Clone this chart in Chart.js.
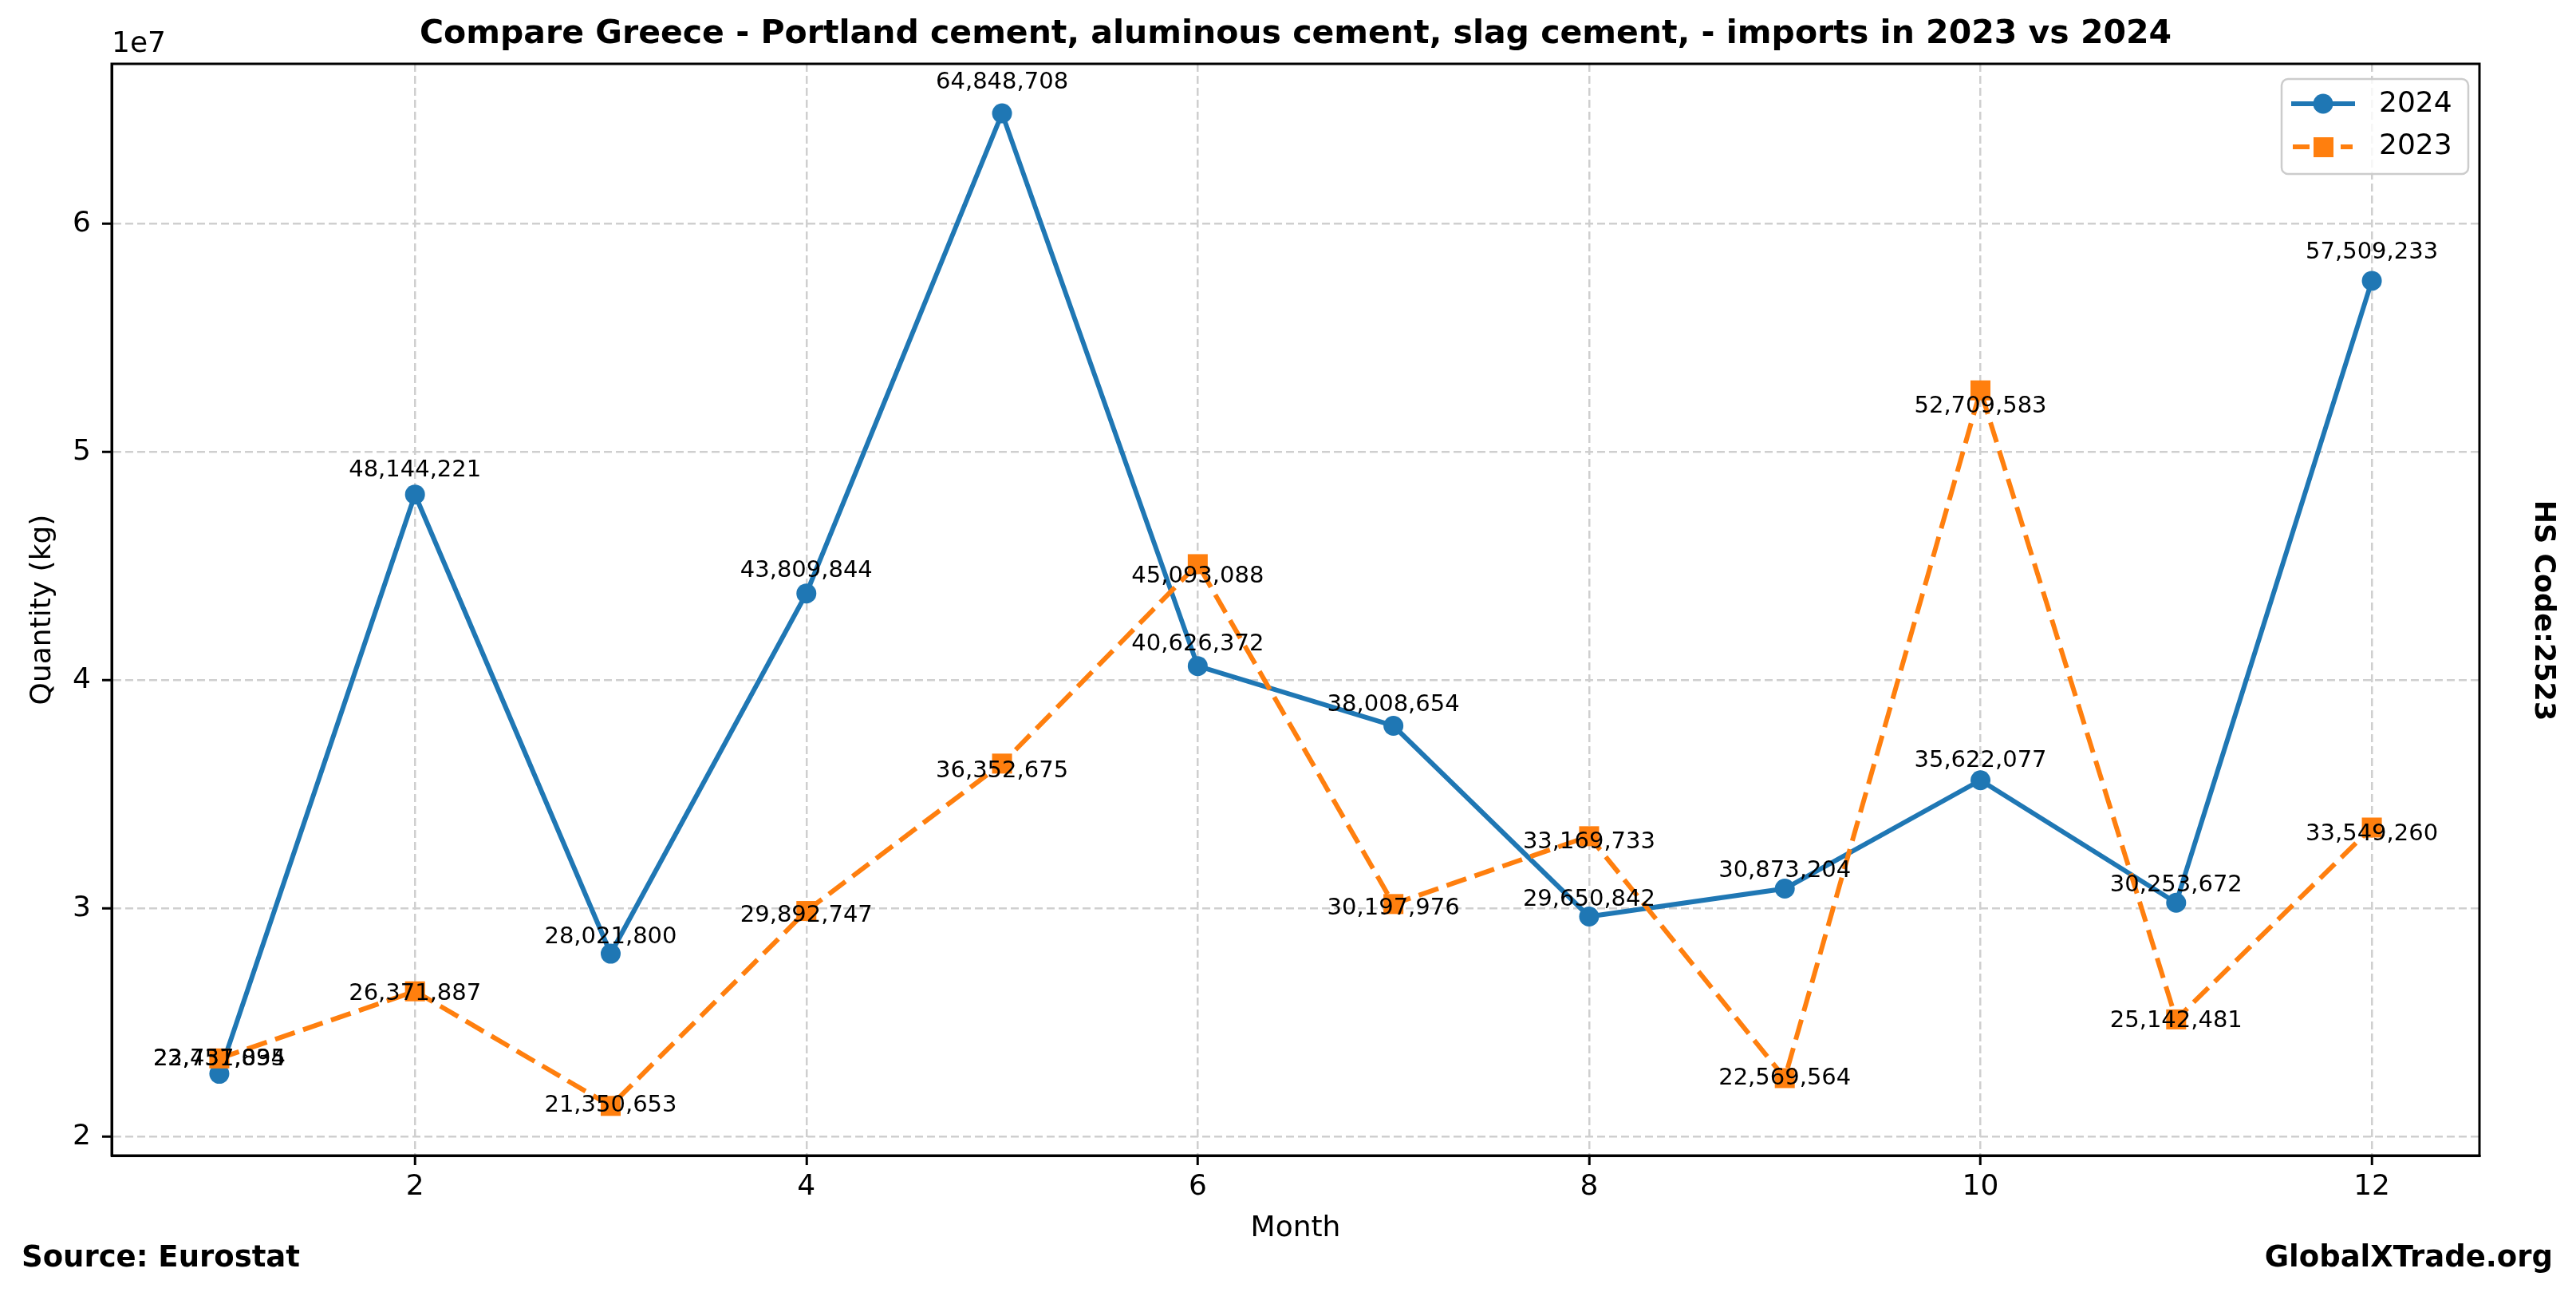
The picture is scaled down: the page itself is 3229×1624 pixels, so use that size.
<!DOCTYPE html>
<html>
<head>
<meta charset="utf-8">
<script src="https://cdn.jsdelivr.net/npm/chart.js@4.4.0/dist/chart.umd.min.js"></script>
<style>
  html, body { margin: 0; padding: 0; background: #fff; }
</style>
</head>
<body>
<canvas id="importsChart" width="3229" height="1624"></canvas>
<script>
const months = [1, 2, 3, 4, 5, 6, 7, 8, 9, 10, 11, 12];
const imports2024 = [22757094, 48144221, 28021800, 43809844, 64848708, 40626372, 38008654, 29650842, 30873204, 35622077, 30253672, 57509233];
const imports2023 = [23431835, 26371887, 21350653, 29892747, 36352675, 45093088, 30197976, 33169733, 22569564, 52709583, 25142481, 33549260];
const xTickValues = [2, 4, 6, 8, 10, 12];
const yTickValues = [20000000, 30000000, 40000000, 50000000, 60000000];

const BLUE = "#1f77b4";
const ORANGE = "#ff7f0e";
const FONT = "'DejaVu Sans', sans-serif";

function toPoints(values) {
  return months.map((m, i) => ({ x: m, y: values[i] }));
}

// labels, titles, frame and legend drawn on top
const decorations = {
  id: "decorations",
  afterDatasetsDraw(chart) {
    const { ctx, chartArea, scales } = chart;
    ctx.save();
    ctx.fillStyle = "#000";
    ctx.font = "29px " + FONT;
    ctx.textAlign = "center";
    ctx.textBaseline = "middle";
    imports2024.forEach((v, i) => {
      const x = scales.x.getPixelForValue(months[i]);
      const y = scales.y.getPixelForValue(v * 1.0175 + 230000);
      ctx.fillText(v.toLocaleString("en-US"), x, y);
    });
    imports2023.forEach((v, i) => {
      const x = scales.x.getPixelForValue(months[i]);
      const y = scales.y.getPixelForValue(v * 0.977 + 490000);
      ctx.fillText(v.toLocaleString("en-US"), x, y);
    });

    // frame
    ctx.strokeStyle = "#000";
    ctx.lineWidth = 3;
    ctx.strokeRect(chartArea.left, chartArea.top, chartArea.right - chartArea.left, chartArea.bottom - chartArea.top);

    // legend
    const lx = 2860, ly = 99, lw = 234, lh = 119;
    ctx.beginPath();
    ctx.roundRect(lx, ly, lw, lh, 8);
    ctx.fillStyle = "rgba(255,255,255,0.8)";
    ctx.fill();
    ctx.strokeStyle = "#cccccc";
    ctx.lineWidth = 2.5;
    ctx.stroke();

    ctx.strokeStyle = BLUE;
    ctx.lineWidth = 6;
    ctx.beginPath();
    ctx.moveTo(2872, 130); ctx.lineTo(2952, 130);
    ctx.stroke();
    ctx.fillStyle = BLUE;
    ctx.beginPath();
    ctx.arc(2912, 130, 12.5, 0, Math.PI * 2);
    ctx.fill();

    ctx.strokeStyle = ORANGE;
    ctx.beginPath();
    ctx.moveTo(2874, 184); ctx.lineTo(2895, 184);
    ctx.moveTo(2934, 184); ctx.lineTo(2949, 184);
    ctx.stroke();
    ctx.fillStyle = ORANGE;
    ctx.fillRect(2900, 172, 25, 25);

    ctx.fillStyle = "#000";
    ctx.font = "36px " + FONT;
    ctx.textAlign = "left";
    ctx.fillText("2024", 2982, 131);
    ctx.fillText("2023", 2982, 184);

    // titles
    ctx.textAlign = "center";
    ctx.font = "bold 41px " + FONT;
    ctx.fillText("Compare Greece - Portland cement, aluminous cement, slag cement, - imports in 2023 vs 2024", (chartArea.left + chartArea.right) / 2, 43);

    ctx.font = "36px " + FONT;
    ctx.fillText("Month", (chartArea.left + chartArea.right) / 2, 1540);
    ctx.textAlign = "left";
    ctx.fillText("1e7", chartArea.left, 56);

    ctx.save();
    ctx.translate(54, (chartArea.top + chartArea.bottom) / 2);
    ctx.rotate(-Math.PI / 2);
    ctx.textAlign = "center";
    ctx.fillText("Quantity (kg)", 0, 0);
    ctx.restore();

    ctx.font = "bold 37px " + FONT;
    ctx.textAlign = "left";
    ctx.fillText("Source: Eurostat", 27, 1577);
    ctx.textAlign = "right";
    ctx.fillText("GlobalXTrade.org", 3200, 1577);

    ctx.font = "bold 35px " + FONT;
    ctx.save();
    ctx.translate(3187, 765);
    ctx.rotate(Math.PI / 2);
    ctx.textAlign = "center";
    ctx.fillText("HS Code:2523", 0, 0);
    ctx.restore();

    ctx.restore();
  }
};

const gridStyle = {
  color: "#cfcfcf",
  lineWidth: 2.5,
  tickColor: "#000",
  tickWidth: 3,
  tickLength: 12,
  tickBorderDash: [1, 0]
};

const ctx = document.getElementById("importsChart").getContext("2d");
const chart = new Chart(ctx, {
  type: "line",
  data: {
    datasets: [
      {
        label: "2024",
        data: toPoints(imports2024),
        borderColor: BLUE,
        backgroundColor: BLUE,
        borderWidth: 6,
        pointStyle: "circle",
        pointRadius: 12.5,
        pointBorderWidth: 0,
        tension: 0,
        order: 1
      },
      {
        label: "2023",
        data: toPoints(imports2023),
        borderColor: ORANGE,
        backgroundColor: ORANGE,
        borderWidth: 6,
        borderDash: [26, 11],
        pointStyle: "rect",
        pointRadius: 17.7,
        pointBorderWidth: 0,
        tension: 0,
        order: 0
      }
    ]
  },
  options: {
    responsive: false,
    devicePixelRatio: 1,
    animation: false,
    layout: { padding: { top: 80, right: 121, bottom: 86, left: 0 } },
    plugins: {
      legend: { display: false },
      title: { display: false },
      tooltip: { enabled: false }
    },
    scales: {
      x: {
        type: "linear",
        min: 0.45,
        max: 12.55,
        afterBuildTicks: (scale) => { scale.ticks = xTickValues.map(v => ({ value: v })); },
        afterFit: (scale) => { scale.height = 90; },
        ticks: {
          color: "#000",
          font: { family: FONT, size: 36 },
          padding: 6,
          maxRotation: 0,
          autoSkip: false,
          callback: (v) => String(v)
        },
        grid: gridStyle,
        border: { display: true, color: "#000", width: 3, dash: [10, 5] }
      },
      y: {
        type: "linear",
        min: 19175000,
        max: 67020000,
        afterBuildTicks: (scale) => { scale.ticks = yTickValues.map(v => ({ value: v })); },
        afterFit: (scale) => { scale.width = 140; },
        ticks: {
          color: "#000",
          font: { family: FONT, size: 36 },
          padding: 14,
          autoSkip: false,
          callback: (v) => String(v / 10000000)
        },
        grid: gridStyle,
        border: { display: true, color: "#000", width: 3, dash: [10, 5] }
      }
    }
  },
  plugins: [decorations]
});
</script>
</body>
</html>
